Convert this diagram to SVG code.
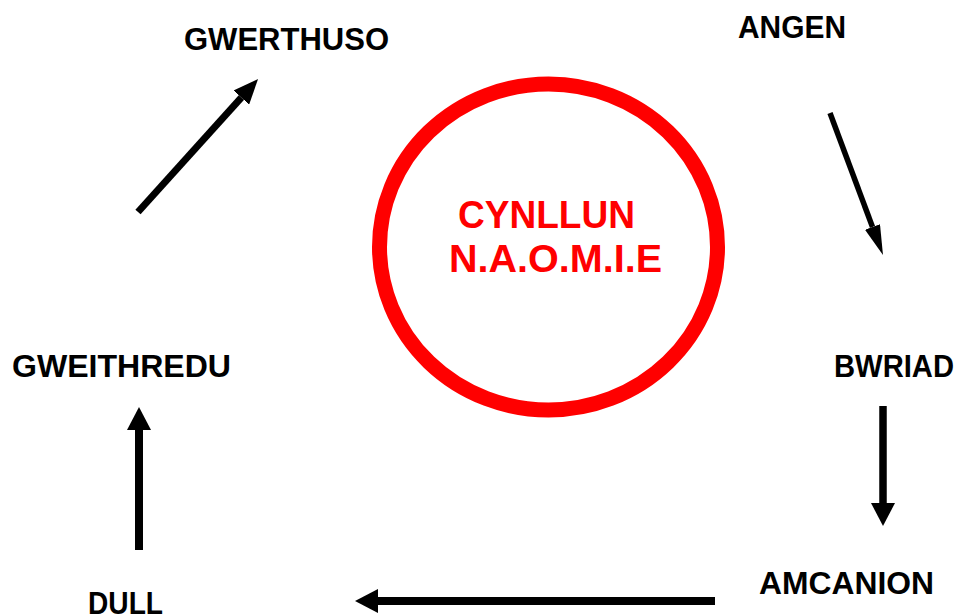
<svg xmlns="http://www.w3.org/2000/svg" width="963" height="616" viewBox="0 0 963 616">
<style>
.lbl{font-family:"Liberation Sans",Arial,sans-serif;font-weight:bold;font-size:31px;fill:#000}
.ctr{font-family:"Liberation Sans",Arial,sans-serif;font-weight:bold;font-size:38px;fill:#ff0000}
.conn{stroke:#000;fill:none;stroke-linecap:butt}
</style>
<defs>
<marker id="ah" markerUnits="userSpaceOnUse" markerWidth="23" markerHeight="24" viewBox="0 0 23 24" refX="0" refY="12" orient="auto"><path d="M0,0 L23,12 L0,24 Z" fill="#000"/></marker>
<marker id="ah1" markerUnits="userSpaceOnUse" markerWidth="25" markerHeight="21" viewBox="0 0 25 21" refX="0" refY="10.5" orient="auto"><path d="M0,0 L25,10.5 L0,21 Z" fill="#000"/></marker>
<marker id="ah2" markerUnits="userSpaceOnUse" markerWidth="30" markerHeight="16" viewBox="0 0 30 16" refX="0" refY="8" orient="auto"><path d="M0,0 L30,8 L0,16 Z" fill="#000"/></marker>
</defs>
<rect width="963" height="616" fill="#fff"/>
<g id="center">
<ellipse cx="548.5" cy="247" rx="169" ry="163" fill="none" stroke="#ff0000" stroke-width="15"/>
<text class="ctr" x="458" y="228" textLength="177" lengthAdjust="spacingAndGlyphs">CYNLLUN</text>
<text class="ctr" x="449" y="272" textLength="213" lengthAdjust="spacingAndGlyphs">N.A.O.M.I.E</text>
</g>
<g id="angen"><text class="lbl" x="738" y="38" textLength="108" lengthAdjust="spacingAndGlyphs">ANGEN</text></g>
<g id="bwriad"><text class="lbl" x="834" y="377" textLength="120" lengthAdjust="spacingAndGlyphs">BWRIAD</text></g>
<g id="amcanion"><text class="lbl" x="759" y="594" textLength="175" lengthAdjust="spacingAndGlyphs">AMCANION</text></g>
<g id="dull"><text class="lbl" x="88" y="614" textLength="75" lengthAdjust="spacingAndGlyphs">DULL</text></g>
<g id="gweithredu"><text class="lbl" x="12" y="377" textLength="219" lengthAdjust="spacingAndGlyphs">GWEITHREDU</text></g>
<g id="gwerthuso"><text class="lbl" x="184" y="50" textLength="205" lengthAdjust="spacingAndGlyphs">GWERTHUSO</text></g>
<g id="connectors">
<line class="conn" x1="830" y1="113" x2="872.5" y2="227" stroke-width="5.5" marker-end="url(#ah2)"/>
<line class="conn" x1="883" y1="406" x2="883" y2="503" stroke-width="7.5" marker-end="url(#ah)"/>
<line class="conn" x1="715" y1="601" x2="378" y2="601" stroke-width="8" marker-end="url(#ah)"/>
<line class="conn" x1="139" y1="550" x2="139" y2="430" stroke-width="8" marker-end="url(#ah)"/>
<line class="conn" x1="138" y1="212" x2="241.3" y2="97.6" stroke-width="7" marker-end="url(#ah1)"/>
</g>
</svg>
